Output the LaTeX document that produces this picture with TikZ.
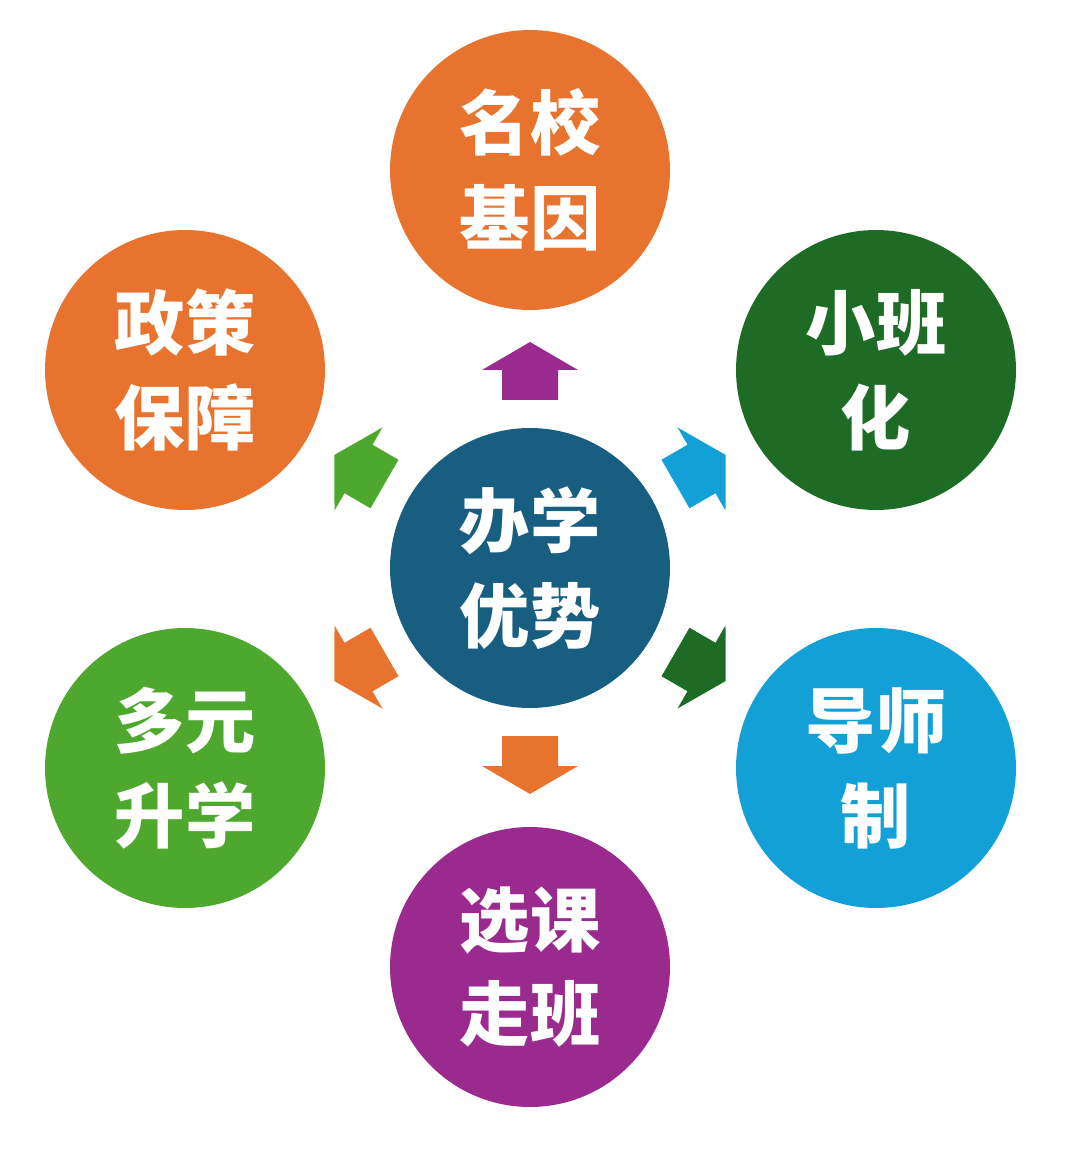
\documentclass[tikz,border=0pt]{standalone}
\usepackage{fontspec}
\newfontfamily\cjk{Noto Sans CJK SC}
\definecolor{cOrange}{HTML}{E8732F}
\definecolor{cDark}{HTML}{1E6B26}
\definecolor{cSky}{HTML}{12A0D7}
\definecolor{cPurple}{HTML}{9B2A8F}
\definecolor{cGreen}{HTML}{4FA82E}
\definecolor{cCore}{HTML}{175E80}
\tikzset{
  ball/.style={circle, minimum size=5.6cm, inner sep=0pt, text=white,
    font=\cjk\bfseries\fontsize{40}{54}\selectfont, align=center},
  blockarrow/.style={fill=#1}
}
\newcommand{\blockarr}[2]{%
  \begin{scope}[shift={(530,568)}, rotate=#1]
    \fill[#2] (168,-28) -- (198,-28) -- (198,-48) -- (226,0)
      -- (198,48) -- (198,28) -- (168,28) -- cycle;
  \end{scope}}
\begin{document}
\begin{tikzpicture}[x=0.02cm, y=-0.02cm]
  \useasboundingbox (0,0) rectangle (1080,1151);
  % centre and six satellites
  \node[ball, fill=cCore] (core) at (530,568) {办学\\优势};
  \node[ball, fill=cOrange] (fame) at (530,170) {名校\\基因};
  \node[ball, fill=cDark] (small) at (876,370) {小班\\化};
  \node[ball, fill=cSky] (tutor) at (876,768) {导师\\制};
  \node[ball, fill=cPurple] (walk) at (530,967) {选课\\走班};
  \node[ball, fill=cGreen] (exit) at (185,768) {多元\\升学};
  \node[ball, fill=cOrange] (policy) at (185,370) {政策\\保障};
  % arrows from the centre
  \blockarr{-90}{cOrange}
  \blockarr{-30}{cDark}
  \blockarr{30}{cSky}
  \blockarr{90}{cPurple}
  \blockarr{150}{cGreen}
  \blockarr{-150}{cOrange}
\end{tikzpicture}
\end{document}
